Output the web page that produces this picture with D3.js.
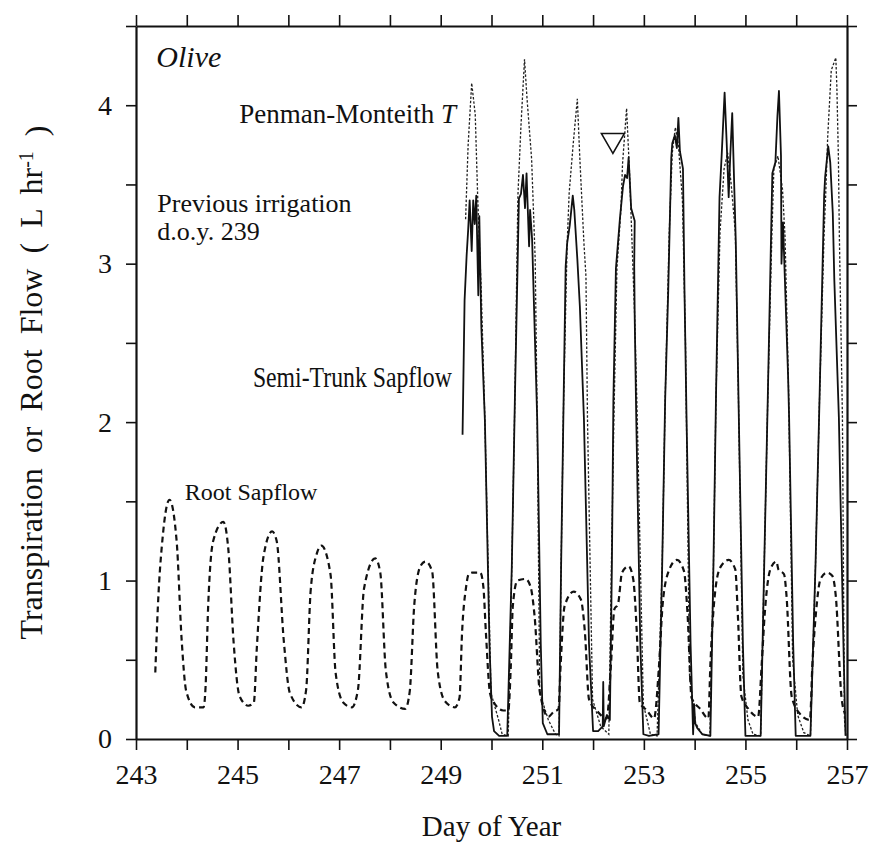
<!DOCTYPE html>
<html>
<head>
<meta charset="utf-8">
<script src="https://cdn.jsdelivr.net/npm/d3@7"></script>
<style>
  body { margin: 0; background: #fff; }
  .axis path, .axis line { stroke: #111; }
  .axis text { font-family: "Liberation Serif", "Times New Roman", serif; fill: #111; }
  .label { font-family: "Liberation Serif", "Times New Roman", serif; fill: #111; }
</style>
</head>
<body>
<div class="graph--olive"></div>
<script>
// tick values
var dayTicks = [243, 244, 245, 246, 247, 248, 249, 250, 251, 252, 253, 254, 255, 256, 257];
var flowTicks = [0, 0.5, 1, 1.5, 2, 2.5, 3, 3.5, 4, 4.5];

// Root sapflow, [day of year, L/hr]
var rootSapflow = [
  [243.38,0.42],[243.43,0.83],[243.53,1.29],[243.66,1.51],[243.80,1.25],[243.90,0.62],[243.99,0.30],
  [244.16,0.20],[244.33,0.20],[244.37,0.33],[244.42,0.83],[244.52,1.25],[244.72,1.37],[244.82,1.19],
  [244.92,0.62],[245.04,0.27],[245.21,0.21],[245.32,0.23],[245.38,0.58],[245.51,1.15],[245.68,1.31],
  [245.77,1.25],[245.91,0.62],[246.03,0.29],[246.26,0.20],[246.35,0.31],[246.44,0.94],[246.56,1.17],
  [246.65,1.22],[246.83,1.04],[246.93,0.42],[247.08,0.23],[247.25,0.20],[247.37,0.31],[247.49,0.95],
  [247.71,1.14],[247.81,1.05],[247.92,0.43],[248.07,0.23],[248.30,0.19],[248.39,0.30],[248.48,0.85],
  [248.60,1.09],[248.70,1.12],[248.83,1.06],[248.94,0.43],[249.08,0.24],[249.28,0.20],[249.37,0.26],
  [249.42,0.67],[249.50,0.96],[249.55,1.04],[249.62,1.05],[249.78,1.05],[249.84,0.96],[249.89,0.67],
  [249.97,0.29],[250.03,0.24],[250.23,0.18],[250.33,0.18],[250.38,0.46],[250.42,0.84],[250.51,1.00],
  [250.67,1.01],[250.77,0.96],[250.85,0.77],[250.95,0.30],[251.12,0.14],[251.22,0.17],[251.32,0.19],
  [251.36,0.46],[251.44,0.84],[251.62,0.93],[251.76,0.88],[251.84,0.67],[251.92,0.25],[252.07,0.18],
  [252.27,0.13],[252.35,0.46],[252.42,0.82],[252.49,0.85],[252.57,1.05],[252.70,1.09],[252.79,1.01],
  [252.86,0.68],[252.92,0.23],[253.06,0.18],[253.20,0.13],[253.30,0.47],[253.37,0.85],[253.49,1.06],
  [253.65,1.13],[253.79,1.06],[253.86,0.79],[253.94,0.26],[254.11,0.19],[254.27,0.13],[254.31,0.47],
  [254.38,0.85],[254.50,1.08],[254.67,1.13],[254.80,1.07],[254.85,0.79],[254.92,0.27],[255.06,0.19],
  [255.25,0.14],[255.32,0.47],[255.38,0.79],[255.49,1.07],[255.61,1.12],[255.65,1.07],[255.76,1.04],
  [255.81,0.90],[255.91,0.27],[256.07,0.16],[256.27,0.12],[256.32,0.48],[256.39,0.80],[256.48,1.01],
  [256.61,1.05],[256.71,1.03],[256.78,0.90],[256.89,0.27],[256.96,0.16]
];

// Semi-trunk sapflow
var trunkSapflow = [
  [249.43,1.92],[249.47,2.77],[249.51,3.05],[249.54,3.21],[249.57,3.40],[249.61,3.08],[249.64,3.40],
  [249.67,3.25],[249.70,3.43],[249.74,2.80],[249.76,3.30],[249.80,2.60],[249.87,2.01],[249.96,0.60],
  [250.01,0.14],[250.05,0.05],[250.15,0.02],[250.31,0.02],
  [250.40,1.09],[250.46,2.14],[250.54,3.41],[250.58,3.44],[250.62,3.56],[250.66,3.35],[250.69,3.57],
  [250.74,3.11],[250.76,3.34],[250.80,3.15],[250.90,2.02],[250.97,0.60],[251.01,0.10],[251.10,0.03],
  [251.33,0.03],
  [251.37,1.08],[251.42,2.14],[251.46,2.98],[251.49,3.13],[251.54,3.24],[251.60,3.43],[251.63,3.34],
  [251.69,3.03],[251.74,2.73],[251.82,2.02],[251.92,0.60],[252.00,0.05],[252.10,0.05],[252.19,0.08],
  [252.20,0.36],[252.21,0.08],[252.27,0.15],[252.33,0.12],
  [252.37,1.08],[252.40,2.14],[252.45,2.97],[252.53,3.29],[252.59,3.49],[252.63,3.56],[252.67,3.54],
  [252.70,3.67],[252.75,3.35],[252.82,3.27],[252.81,2.99],[252.82,2.66],[252.85,2.03],[252.93,0.60],
  [252.99,0.03],[253.10,0.02],[253.29,0.03],
  [253.36,1.08],[253.42,2.15],[253.48,2.83],[253.54,3.67],[253.56,3.76],[253.61,3.81],[253.65,3.73],
  [253.68,3.92],[253.71,3.71],[253.77,3.60],[253.80,2.83],[253.84,2.03],[253.92,0.60],[253.97,0.03],
  [253.99,0.22],[254.01,0.10],[254.05,0.07],[254.15,0.03],[254.31,0.02],
  [254.37,1.09],[254.42,2.15],[254.49,3.42],[254.53,3.67],[254.59,4.08],[254.63,3.77],[254.67,3.42],
  [254.70,3.67],[254.74,3.95],[254.81,3.14],[254.87,2.03],[254.95,0.60],[255.00,0.02],[255.30,0.02],
  [255.37,1.10],[255.44,2.15],[255.53,3.57],[255.59,3.64],[255.63,3.93],[255.66,4.09],[255.70,3.68],
  [255.71,3.00],[255.74,3.26],[255.84,2.29],[255.86,2.03],[255.94,0.60],[255.99,0.02],[256.28,0.02],
  [256.38,1.10],[256.46,2.16],[256.55,3.43],[256.57,3.55],[256.63,3.74],[256.67,3.64],[256.72,3.32],
  [256.75,2.90],[256.84,2.03],[256.93,0.60],[256.97,0.02]
];

// Penman-Monteith transpiration
var penmanT = [
  [249.49,3.28],[249.54,3.75],[249.61,4.14],[249.68,3.94],[249.73,3.40],[249.80,2.81],[249.87,2.01],
  [249.99,0.29],[250.14,0.12],[250.21,0.03],[250.33,0.02],
  [250.40,1.09],[250.46,2.14],[250.52,3.43],[250.58,3.87],[250.65,4.29],[250.70,4.04],[250.79,3.66],
  [250.86,3.03],[250.90,2.02],[250.95,0.29],[251.12,0.12],[251.26,0.03],[251.33,0.02],
  [251.37,1.08],[251.42,2.14],[251.49,3.13],[251.53,3.45],[251.61,3.76],[251.69,4.04],[251.74,3.66],
  [251.82,3.13],[251.86,2.92],[251.89,2.02],[251.99,0.25],[252.15,0.08],[252.31,0.03],
  [252.36,1.08],[252.41,2.02],[252.47,2.97],[252.55,3.35],[252.58,3.63],[252.66,3.98],[252.72,3.56],
  [252.82,2.66],[252.87,2.03],[252.99,0.22],[253.13,0.03],[253.26,0.02],
  [253.36,1.08],[253.42,2.15],[253.50,3.20],[253.56,3.70],[253.62,3.86],[253.68,3.75],[253.76,3.40],
  [253.82,2.50],[253.90,0.40],[254.02,0.10],[254.15,0.03],[254.30,0.02],
  [254.37,1.09],[254.42,2.15],[254.50,3.20],[254.58,3.60],[254.65,3.70],[254.72,3.50],[254.80,3.20],
  [254.86,2.20],[254.95,0.40],[255.05,0.12],[255.15,0.03],[255.30,0.02],
  [255.37,1.10],[255.44,2.15],[255.52,3.17],[255.56,3.60],[255.64,3.68],[255.73,3.47],[255.78,3.17],
  [255.85,2.20],[255.93,0.50],[256.03,0.15],[256.15,0.04],[256.28,0.02],
  [256.38,1.10],[256.46,2.16],[256.55,3.20],[256.58,3.43],[256.62,3.80],[256.69,4.22],[256.78,4.30],
  [256.80,4.12],[256.83,3.68],[256.85,3.17],[256.91,2.03],[256.95,0.12],[256.98,0.02]
];

var width = 870, height = 846;
var margin = { top: 26, left: 136, right: 23, bottom: 107 };

var svg = d3.select(".graph--olive").append("svg")
    .attr("width", width)
    .attr("height", height);

svg.append("rect")
    .attr("width", width)
    .attr("height", height)
    .attr("fill", "#fff");

var xScale = d3.scaleLinear()
    .domain([243, 257])
    .range([margin.left, width - margin.right]);
var yScale = d3.scaleLinear()
    .domain([0, 4.5])
    .range([height - margin.bottom, margin.top]);

var line = d3.line()
    .x(function(d) { return xScale(d[0]); })
    .y(function(d) { return yScale(d[1]); });
var smooth = d3.line()
    .curve(d3.curveMonotoneX)
    .x(function(d) { return xScale(d[0]); })
    .y(function(d) { return yScale(d[1]); });

// Penman-Monteith (fine dots)
svg.append("path")
    .datum(penmanT)
    .attr("d", line)
    .attr("fill", "none")
    .attr("stroke", "#222")
    .attr("stroke-width", 1.3)
    .attr("stroke-dasharray", "2.5,1.8");

// Semi-trunk (solid)
svg.append("path")
    .datum(trunkSapflow)
    .attr("d", line)
    .attr("fill", "none")
    .attr("stroke", "#111")
    .attr("stroke-width", 1.8)
    .attr("stroke-linejoin", "round");

// Root (dashed)
svg.append("path")
    .datum(rootSapflow)
    .attr("d", smooth)
    .attr("fill", "none")
    .attr("stroke", "#111")
    .attr("stroke-width", 2.2)
    .attr("stroke-dasharray", "6,4");

// Axes
var plotH = height - margin.bottom;
var plotW = width - margin.right;

var xAxis = svg.append("g")
    .attr("class", "x axis")
    .attr("transform", "translate(0," + plotH + ")")
    .call(d3.axisBottom(xScale)
      .tickValues(dayTicks)
      .tickSize(11)
      .tickSizeOuter(0)
      .tickPadding(14)
      .tickFormat(function(d) { return d % 2 ? d : ""; }));
xAxis.selectAll("text").style("font-size", "28px");

svg.append("g")
    .attr("class", "axis")
    .attr("transform", "translate(0," + margin.top + ")")
    .call(d3.axisTop(xScale).tickValues(dayTicks).tickSize(11).tickSizeOuter(0).tickFormat(""));

var yAxis = svg.append("g")
    .attr("class", "y axis")
    .attr("transform", "translate(" + margin.left + ",0)")
    .call(d3.axisLeft(yScale)
      .tickValues(flowTicks)
      .tickSize(10)
      .tickSizeOuter(0)
      .tickPadding(14)
      .tickFormat(function(d) { return d % 1 === 0 ? d : ""; }));
yAxis.selectAll("text").style("font-size", "28px");

svg.append("g")
    .attr("class", "axis")
    .attr("transform", "translate(" + plotW + ",0)")
    .call(d3.axisRight(yScale).tickValues(flowTicks).tickSize(10).tickSizeOuter(0).tickFormat(""));

svg.selectAll(".axis path").attr("stroke-width", 2.2);
svg.selectAll(".axis line").attr("stroke-width", 1.6);

// Axis titles
svg.append("text")
    .attr("class", "label")
    .attr("x", (margin.left + plotW) / 2)
    .attr("y", 836)
    .attr("text-anchor", "middle")
    .style("font-size", "29px")
    .text("Day of Year");

var yTitle = svg.append("text")
    .attr("class", "label")
    .attr("transform", "translate(42," + ((margin.top + plotH) / 2) + ") rotate(-90)")
    .attr("text-anchor", "middle")
    .style("font-size", "32px")
    .style("word-spacing", "7px");
yTitle.append("tspan").text("Transpiration or Root Flow ( L hr");
yTitle.append("tspan").attr("dy", "-0.45em").style("font-size", "20px").text("-1");
yTitle.append("tspan").attr("dy", "0.45em").text(" )");

// Annotations
svg.append("text")
    .attr("class", "label")
    .attr("x", xScale(243.4))
    .attr("y", yScale(4.24))
    .style("font-size", "30px")
    .style("font-style", "italic")
    .text("Olive");

var pm = svg.append("text")
    .attr("class", "label")
    .attr("x", xScale(249.3))
    .attr("y", yScale(3.89))
    .attr("text-anchor", "end")
    .style("font-size", "27px");
pm.append("tspan").text("Penman-Monteith ");
pm.append("tspan").style("font-style", "italic").text("T");

svg.append("text")
    .attr("class", "label")
    .attr("x", xScale(243.42))
    .attr("y", yScale(3.325))
    .style("font-size", "26px")
    .text("Previous irrigation");
svg.append("text")
    .attr("class", "label")
    .attr("x", xScale(243.42))
    .attr("y", yScale(3.15))
    .style("font-size", "26px")
    .text("d.o.y. 239");

svg.append("text")
    .attr("class", "label")
    .attr("x", xScale(249.22) - 199)
    .attr("y", yScale(2.22))
    .attr("textLength", 199)
    .attr("lengthAdjust", "spacingAndGlyphs")
    .style("font-size", "29px")
    .text("Semi-Trunk Sapflow");

svg.append("text")
    .attr("class", "label")
    .attr("x", xScale(243.96))
    .attr("y", yScale(1.51))
    .style("font-size", "24px")
    .text("Root Sapflow");

// irrigation marker
svg.append("path")
    .attr("d", d3.symbol().type(d3.symbolTriangle).size(230))
    .attr("transform", "translate(" + xScale(252.39) + "," + yScale(3.78) + ") rotate(180)")
    .attr("fill", "#fff")
    .attr("stroke", "#111")
    .attr("stroke-width", 1.5);
</script>
</body>
</html>
